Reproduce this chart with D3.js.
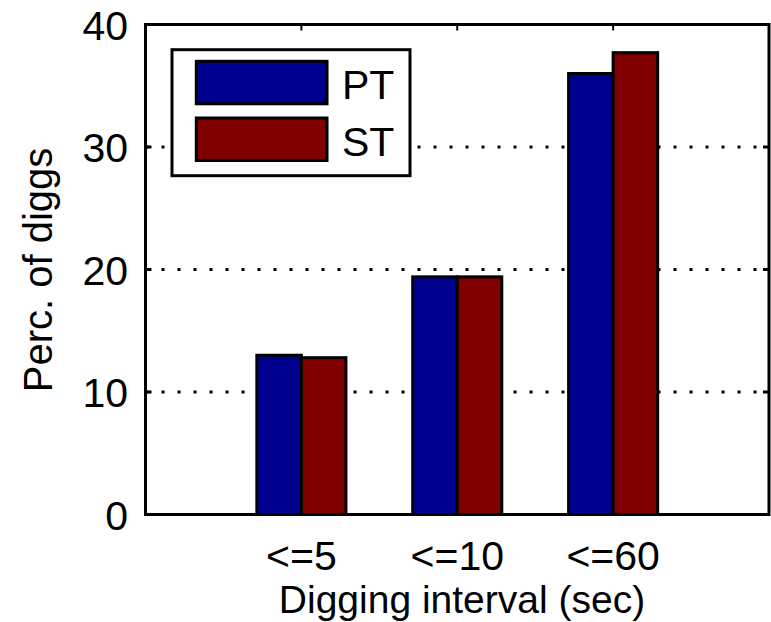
<!DOCTYPE html>
<html>
<head>
<meta charset="utf-8">
<script src="https://cdn.jsdelivr.net/npm/d3@7"></script>
<style>
  html, body { margin: 0; padding: 0; background: #fff; }
  svg { display: block; }
  text { font-family: "Liberation Sans", Arial, Helvetica, sans-serif; fill: #000; }
</style>
</head>
<body>
<svg id="chart" width="771" height="622"></svg>
<script>
// Share of diggs falling within each digging interval
const categories = ["<=5", "<=10", "<=60"];
const seriesNames = ["PT", "ST"];
const ptValues = [13.0, 19.4, 36.0];
const stValues = [12.8, 19.4, 37.7];
const yTicks = [0, 10, 20, 30, 40];
const colors = ["#00008f", "#800000"];

const svg = d3.select("#chart");
const plot = { left: 145.5, right: 769, top: 24.5, bottom: 514.5 };

// Categories sit at 1..n on a 0..n+1 axis; each group of two bars is centred there
const x = d3.scaleLinear().domain([0, categories.length + 1]).range([plot.left, plot.right]);
const y = d3.scaleLinear().domain([0, 40]).range([plot.bottom, plot.top]);
const groupWidth = 2 / 3.5;           // total width of one group in axis units
const barWidth = groupWidth / 2;

// dotted horizontal grid
svg.append("g").selectAll("line")
  .data(yTicks.filter(t => t > 0 && t < 40))
  .join("line")
  .attr("x1", plot.left).attr("x2", plot.right)
  .attr("y1", d => y(d)).attr("y2", d => y(d))
  .attr("stroke", "#000").attr("stroke-width", 3)
  .attr("stroke-dasharray", "3,13");

// bars
const series = [ptValues, stValues];
const barsG = svg.append("g");
series.forEach((vals, si) => {
  barsG.selectAll(null)
    .data(vals)
    .join("rect")
    .attr("x", (d, i) => x(i + 1 - groupWidth / 2 + si * barWidth))
    .attr("width", x(barWidth) - x(0))
    .attr("y", d => y(d))
    .attr("height", d => y(0) - y(d))
    .attr("fill", colors[si])
    .attr("stroke", "#000")
    .attr("stroke-width", 3);
});

// axis box
const axisG = svg.append("g");
axisG.append("rect")
  .attr("x", plot.left).attr("y", plot.top)
  .attr("width", plot.right - plot.left).attr("height", plot.bottom - plot.top)
  .attr("fill", "none").attr("stroke", "#000").attr("stroke-width", 3);

// inward ticks on left and right for y, top for x
const tickLen = 6;
const yT = yTicks.filter(t => t > 0 && t < 40);
axisG.selectAll(".ytl").data(yT).join("line")
  .attr("x1", plot.left).attr("x2", plot.left + tickLen)
  .attr("y1", d => y(d)).attr("y2", d => y(d))
  .attr("stroke", "#000").attr("stroke-width", 3);
axisG.selectAll(".ytr").data(yT).join("line")
  .attr("x1", plot.right).attr("x2", plot.right - tickLen)
  .attr("y1", d => y(d)).attr("y2", d => y(d))
  .attr("stroke", "#000").attr("stroke-width", 3);
axisG.selectAll(".xtt").data(categories).join("line")
  .attr("x1", (d, i) => x(i + 1)).attr("x2", (d, i) => x(i + 1))
  .attr("y1", plot.top).attr("y2", plot.top + tickLen)
  .attr("stroke", "#000").attr("stroke-width", 2);

// y tick labels
svg.append("g").selectAll("text").data(yTicks).join("text")
  .attr("x", 128)
  .attr("y", d => y(d) + 15)
  .attr("text-anchor", "end")
  .attr("font-size", 41)
  .text(d => d);

// x tick labels
svg.append("g").selectAll("text").data(categories).join("text")
  .attr("x", (d, i) => x(i + 1))
  .attr("y", 570)
  .attr("text-anchor", "middle")
  .attr("font-size", 41)
  .text(d => d);

// axis titles
svg.append("text")
  .attr("x", 462).attr("y", 613)
  .attr("text-anchor", "middle")
  .attr("font-size", 39)
  .text("Digging interval (sec)");

svg.append("text")
  .attr("transform", "translate(52,270) rotate(-90)")
  .attr("text-anchor", "middle")
  .attr("font-size", 40)
  .text("Perc. of diggs");

// legend
const lg = svg.append("g");
lg.append("rect")
  .attr("x", 172).attr("y", 49.7).attr("width", 238).attr("height", 126)
  .attr("fill", "#fff").attr("stroke", "#000").attr("stroke-width", 3);
seriesNames.forEach((name, i) => {
  const top = [61.3, 118][i];
  lg.append("rect")
    .attr("x", 196.3).attr("y", top).attr("width", 130.7).attr("height", 42.5)
    .attr("fill", colors[i]).attr("stroke", "#000").attr("stroke-width", 3);
  lg.append("text")
    .attr("x", 342).attr("y", top + 38)
    .attr("font-size", 41)
    .text(name);
});
</script>
</body>
</html>
